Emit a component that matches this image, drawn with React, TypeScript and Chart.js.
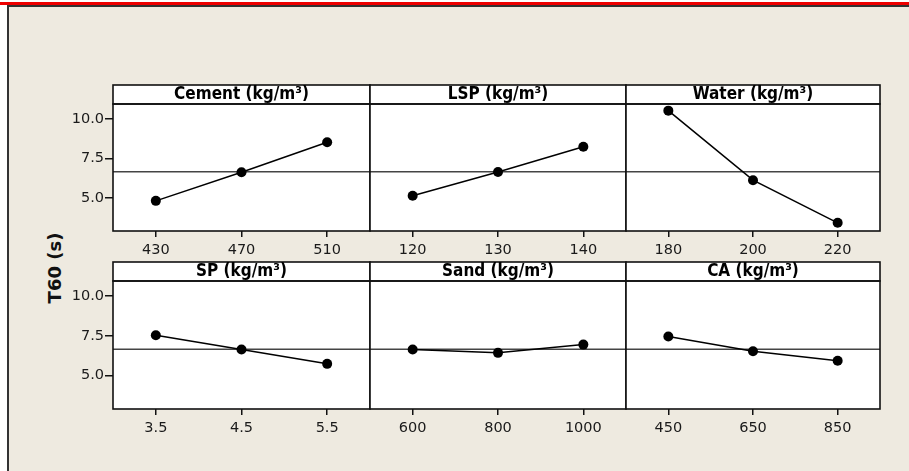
import React, { useEffect, useRef } from 'react';
import { Chart, registerables } from 'chart.js';

Chart.register(...registerables);

// ---------- data ----------
const cementLevels = ['430', '470', '510'];
const cementMeans = [4.81, 6.62, 8.53];
const lspLevels = ['120', '130', '140'];
const lspMeans = [5.13, 6.64, 8.24];
const waterLevels = ['180', '200', '220'];
const waterMeans = [10.53, 6.12, 3.42];
const spLevels = ['3.5', '4.5', '5.5'];
const spMeans = [7.54, 6.64, 5.74];
const sandLevels = ['600', '800', '1000'];
const sandMeans = [6.64, 6.43, 6.95];
const caLevels = ['450', '650', '850'];
const caMeans = [7.46, 6.53, 5.93];

const panelTitles = ['Cement (kg/m³)', 'LSP (kg/m³)', 'Water (kg/m³)', 'SP (kg/m³)', 'Sand (kg/m³)', 'CA (kg/m³)'];
const yTickValues = [5.0, 7.5, 10.0];
const yAxisTitle = 'T60 (s)';
const Y_MIN = 2.9;
const Y_MAX = 10.95;

// ---------- layout ----------
const W = 909;
const H = 471;
const COL_X = [113, 370, 626, 880];
const ROW_TOP = [104, 281];
const ROW_BOTTOM = [231, 409];
const HEADER_H = 19;
const Y_AXIS_W = 40;
const X_AXIS_H = 34;
const TICK_FONT = "'DejaVu Sans', sans-serif";

const panels = [
  { levels: cementLevels, values: cementMeans },
  { levels: lspLevels, values: lspMeans },
  { levels: waterLevels, values: waterMeans },
  { levels: spLevels, values: spMeans },
  { levels: sandLevels, values: sandMeans },
  { levels: caLevels, values: caMeans },
];

const allValues = panels.flatMap((p) => p.values);
const grandMean = allValues.reduce((a, b) => a + b, 0) / allValues.length;

function Panel({ index }: { index: number }) {
  const ref = useRef<HTMLCanvasElement | null>(null);
  useEffect(() => {
    const row = Math.floor(index / 3);
    const col = index % 3;
    const { levels, values } = panels[index];
    const title = panelTitles[index];
    const left = COL_X[col];
    const right = COL_X[col + 1];
    const top = ROW_TOP[row];
    const bottom = ROW_BOTTOM[row];
    const showY = col === 0;

    const deco = {
      id: 'panelDeco',
      beforeDraw(chart: any) {
        const { ctx, chartArea: a } = chart;
        const w = a.right - a.left;
        ctx.save();
        ctx.fillStyle = '#ffffff';
        ctx.fillRect(a.left, a.top, w, a.bottom - a.top);
        ctx.fillRect(a.left, a.top - HEADER_H, w, HEADER_H);
        ctx.strokeStyle = '#111111';
        ctx.lineWidth = 1.6;
        ctx.strokeRect(a.left, a.top - HEADER_H, w, HEADER_H);
        ctx.font = "bold 17px 'DejaVu Sans Condensed', 'DejaVu Sans', sans-serif";
        ctx.fillStyle = '#000000';
        ctx.textAlign = 'center';
        ctx.textBaseline = 'middle';
        ctx.fillText(title, (a.left + a.right) / 2, a.top - HEADER_H / 2 + 0.5);
        ctx.restore();
      },
      beforeDatasetsDraw(chart: any) {
        const { ctx, chartArea: a } = chart;
        const y = chart.scales.y.getPixelForValue(grandMean);
        ctx.save();
        ctx.strokeStyle = '#444444';
        ctx.lineWidth = 1.5;
        ctx.beginPath();
        ctx.moveTo(a.left, y);
        ctx.lineTo(a.right, y);
        ctx.stroke();
        ctx.strokeStyle = '#111111';
        ctx.lineWidth = 1.6;
        ctx.strokeRect(a.left, a.top, a.right - a.left, a.bottom - a.top);
        ctx.restore();
      },
    };

    const chart = new Chart(ref.current as HTMLCanvasElement, {
      type: 'line',
      data: {
        labels: levels,
        datasets: [
          {
            data: values,
            borderColor: '#000000',
            backgroundColor: '#000000',
            borderWidth: 1.5,
            pointRadius: 5,
            pointBackgroundColor: '#000000',
            pointBorderWidth: 0,
            tension: 0,
            fill: false,
          },
        ],
      },
      options: {
        responsive: false,
        animation: false,
        devicePixelRatio: 1,
        events: [],
        layout: {
          padding: {
            left: showY ? left - Y_AXIS_W : left,
            right: W - right,
            top: top,
            bottom: H - bottom - X_AXIS_H,
          },
        },
        plugins: {
          legend: { display: false },
          tooltip: { enabled: false },
          title: { display: false },
        },
        scales: {
          x: {
            type: 'category',
            offset: true,
            grid: {
              offset: false,
              drawOnChartArea: false,
              drawTicks: true,
              tickLength: 6,
              color: '#111111',
              lineWidth: 1.5,
            },
            border: { display: false },
            ticks: {
              color: '#1a1a1a',
              font: { family: TICK_FONT, size: 14.5 },
              padding: 5,
              maxRotation: 0,
              autoSkip: false,
            },
            afterFit: (s: any) => {
              s.height = X_AXIS_H;
            },
          },
          y: {
            type: 'linear',
            display: showY,
            min: Y_MIN,
            max: Y_MAX,
            afterBuildTicks: (s: any) => {
              s.ticks = yTickValues.map((v) => ({ value: v }));
            },
            grid: {
              drawOnChartArea: false,
              drawTicks: true,
              tickLength: 8,
              color: '#111111',
              lineWidth: 1.5,
            },
            border: { display: false },
            ticks: {
              color: '#1a1a1a',
              font: { family: TICK_FONT, size: 14.5 },
              padding: 1,
              callback: (v: any) => Number(v).toFixed(1),
            },
            afterFit: (s: any) => {
              s.width = showY ? Y_AXIS_W : 0;
            },
          },
        },
      } as any,
      plugins: [deco],
    });
    return () => chart.destroy();
  }, [index]);
  return (
    <canvas
      ref={ref}
      width={W}
      height={H}
      style={{ position: 'absolute', left: 0, top: 0 }}
    />
  );
}

export default function App() {
  return (
    <div
      style={{
        position: 'fixed',
        left: 0,
        top: 0,
        width: W,
        height: H,
        background: '#ffffff',
        overflow: 'hidden',
      }}
    >
      <div style={{ position: 'absolute', left: 0, top: 2, width: W, height: 3, background: '#ee0000' }} />
      <div
        style={{
          position: 'absolute',
          left: 7,
          top: 5,
          width: W,
          height: H,
          background: '#eeeae0',
          borderLeft: '2px solid #333333',
          borderTop: '2px solid #333333',
        }}
      />
      <div
        style={{
          position: 'absolute',
          left: 54,
          top: 268,
          transform: 'translate(-50%, -50%) rotate(-90deg)',
          whiteSpace: 'nowrap',
          font: "bold 18px 'DejaVu Sans', sans-serif",
          color: '#111111',
        }}
      >
        {yAxisTitle}
      </div>
      {panels.map((_, i) => (
        <Panel key={i} index={i} />
      ))}
    </div>
  );
}
